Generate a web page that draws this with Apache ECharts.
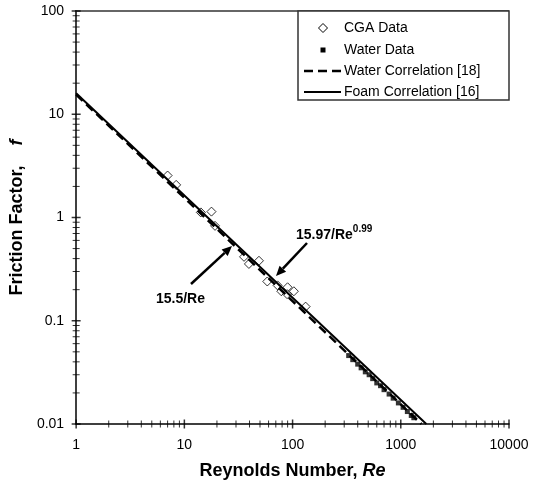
<!DOCTYPE html>
<html><head><meta charset="utf-8">
<script src="https://cdn.jsdelivr.net/npm/echarts@6/dist/echarts.min.js"></script>
<style>html,body{margin:0;padding:0;background:#fff}#c{width:540px;height:485px}</style>
</head><body><div id="c"></div>
<script>
// ---- data ----
const cgaRe = [7.0, 8.4, 14.2, 17.8, 19.2, 35.6, 39.5, 48.9, 58.4, 72.7, 78.7, 89.9, 89.0, 102.8, 132];
const cgaF  = [2.55, 2.07, 1.12, 1.14, 0.83, 0.416, 0.355, 0.381, 0.24, 0.22, 0.193, 0.211, 0.181, 0.193, 0.137];
const waterRe = [330, 360, 400, 430, 470, 510, 550, 600, 650, 700, 780, 850, 950, 1050, 1150, 1250, 1320];
const waterF  = [0.046, 0.042, 0.038, 0.035, 0.032, 0.030, 0.0275, 0.025, 0.0235, 0.0215, 0.0195, 0.0178, 0.016, 0.0145, 0.0132, 0.0121, 0.0115];
const waterCorrRe = [1, 1550];
const waterCorrF  = [15.5, 0.01];
const foamCorrRe = [1, 1721];
const foamCorrF  = [15.97, 0.01];
const xMajorTicks = [1, 10, 100, 1000, 10000];
const xMinorTicks = [2,3,4,5,6,7,8,9, 20,30,40,50,60,70,80,90, 200,300,400,500,600,700,800,900, 2000,3000,4000,5000,6000,7000,8000,9000];
const yMajorTicks = [0.01, 0.1, 1, 10, 100];
const yMinorTicks = [0.02,0.03,0.04,0.05,0.06,0.07,0.08,0.09, 0.2,0.3,0.4,0.5,0.6,0.7,0.8,0.9, 2,3,4,5,6,7,8,9, 20,30,40,50,60,70,80,90];
const legendNames = ['CGA Data', 'Water Data', 'Water Correlation [18]', 'Foam Correlation [16]'];

const FONT = '"Liberation Sans", Arial, sans-serif';
const zip = (a, b) => a.map((v, i) => [v, b[i]]);
const fmt = v => String(Number(Number(v).toPrecision(3)));

const tickSeries = (data, size) => ({
  type: 'scatter', data: data, symbol: 'rect', symbolSize: size, silent: true, clip: false, z: 6,
  itemStyle: { color: '#000' }, animation: false
});

// annotation arrows (pixel positions for the annotation layer)
function arrow(x1, y1, x2, y2) {
  const dx = x2 - x1, dy = y2 - y1, L = Math.hypot(dx, dy);
  const ux = dx / L, uy = dy / L, hl = 10, hw = 4.5;
  const bx = x2 - ux * hl, by = y2 - uy * hl;
  return [
    { type: 'line', shape: { x1: x1, y1: y1, x2: bx, y2: by }, style: { stroke: '#000', lineWidth: 2.5 }, z: 10 },
    { type: 'polygon', shape: { points: [[x2, y2], [bx - uy * hw, by + ux * hw], [bx + uy * hw, by - ux * hw]] }, style: { fill: '#000' }, z: 10 }
  ];
}

const lgX = 304, lgTextX = 344, lgRows = [28, 50, 71, 92];
const graphics = [
  { type: 'line', shape: { x1: 75, y1: 11, x2: 509, y2: 11 }, style: { stroke: '#333', lineWidth: 1.5 }, z: 1 },
  { type: 'rect', shape: { x: 298, y: 11, width: 211, height: 89 }, style: { fill: '#fff', stroke: '#333', lineWidth: 1.5 }, z: 1 },
  { type: 'polygon', shape: { points: [[323, lgRows[0] - 4.5], [327.5, lgRows[0]], [323, lgRows[0] + 4.5], [318.5, lgRows[0]]] }, style: { fill: '#fff', stroke: '#000', lineWidth: 1 }, z: 2 },
  { type: 'rect', shape: { x: 320.5, y: lgRows[1] - 2.5, width: 5, height: 5 }, style: { fill: '#000' }, z: 2 },
  { type: 'line', shape: { x1: lgX, y1: lgRows[2], x2: 341, y2: lgRows[2] }, style: { stroke: '#000', lineWidth: 2.5, lineDash: [9, 5] }, z: 2 },
  { type: 'line', shape: { x1: lgX, y1: lgRows[3], x2: 341, y2: lgRows[3] }, style: { stroke: '#000', lineWidth: 2 }, z: 2 }
];
legendNames.forEach((t, i) => graphics.push({
  type: 'text', x: lgTextX, y: lgRows[i], style: { text: t, font: '14px ' + FONT, fill: '#000', verticalAlign: 'middle', align: 'left' }, z: 2
}));
graphics.push({
  type: 'text', x: 205, y: 299, style: { text: '15.5/Re', font: 'bold 14px ' + FONT, fill: '#000', align: 'right', verticalAlign: 'middle' }, z: 10
});
graphics.push({
  type: 'text', x: 296, y: 233, style: {
    text: '{a|15.97/Re}{s|0.99}', align: 'left', verticalAlign: 'middle',
    rich: { a: { font: 'bold 14px ' + FONT, fill: '#000', verticalAlign: 'bottom' }, s: { font: 'bold 10px ' + FONT, fill: '#000', verticalAlign: 'top', padding: [0, 0, 8, 0] } }
  }, z: 10
});
graphics.push(...arrow(191, 284, 232, 246));
graphics.push(...arrow(307, 243, 276, 276));

const axisCommon = {
  type: 'log', logBase: 10,
  axisLine: { show: true, onZero: false, lineStyle: { color: '#000', width: 1.5 } },
  axisTick: { show: false }, minorTick: { show: false },
  splitLine: { show: false },
  axisLabel: { color: '#000', fontSize: 14, fontFamily: FONT, formatter: fmt },
  nameLocation: 'middle'
};

const option = {
  animation: false,
  backgroundColor: '#fff',
  grid: { left: 75, right: 31, top: 11, bottom: 55 },
  xAxis: Object.assign({}, axisCommon, {
    min: 1, max: 10000,
    axisLabel: Object.assign({}, axisCommon.axisLabel, { margin: 14 }),
    name: '{a|Reynolds Number, }{b|Re}', nameGap: 38,
    nameTextStyle: { rich: {
      a: { fontSize: 18, fontWeight: 'bold', fontFamily: FONT, color: '#000' },
      b: { fontSize: 18, fontWeight: 'bold', fontStyle: 'italic', fontFamily: FONT, color: '#000' } } }
  }),
  yAxis: Object.assign({}, axisCommon, {
    min: 0.01, max: 100,
    axisLabel: Object.assign({}, axisCommon.axisLabel, { margin: 12 }),
    name: '{a|Friction Factor,    }{b|f}', nameGap: 46,
    nameTextStyle: { rich: {
      a: { fontSize: 18, fontWeight: 'bold', fontFamily: FONT, color: '#000' },
      b: { fontSize: 18, fontWeight: 'bold', fontStyle: 'italic', fontFamily: FONT, color: '#000' } } }
  }),
  graphic: graphics,
  series: [
    { name: legendNames[0], type: 'scatter', data: zip(cgaRe, cgaF), symbol: 'diamond', symbolSize: 9,
      itemStyle: { color: '#fff', borderColor: '#000', borderWidth: 1 }, z: 3 },
    { name: legendNames[1], type: 'scatter', data: zip(waterRe, waterF), symbol: 'rect', symbolSize: 5,
      itemStyle: { color: '#000' }, z: 3 },
    { name: legendNames[2], type: 'line', data: zip(waterCorrRe, waterCorrF), showSymbol: false, symbol: 'none',
      lineStyle: { color: '#000', width: 2.5, type: [9, 5] }, z: 4 },
    { name: legendNames[3], type: 'line', data: zip(foamCorrRe, foamCorrF), showSymbol: false, symbol: 'none',
      lineStyle: { color: '#000', width: 2 }, z: 4 },
    tickSeries(xMajorTicks.map(v => [v, 0.01]), [1.5, 9]),
    tickSeries(xMinorTicks.map(v => [v, 0.01]), [1, 7]),
    tickSeries(yMajorTicks.map(v => [1, v]), [9, 1.5]),
    tickSeries(yMinorTicks.map(v => [1, v]), [7, 1])
  ]
};
const chart = echarts.init(document.getElementById('c'));
chart.setOption(option);
</script>
</body></html>
